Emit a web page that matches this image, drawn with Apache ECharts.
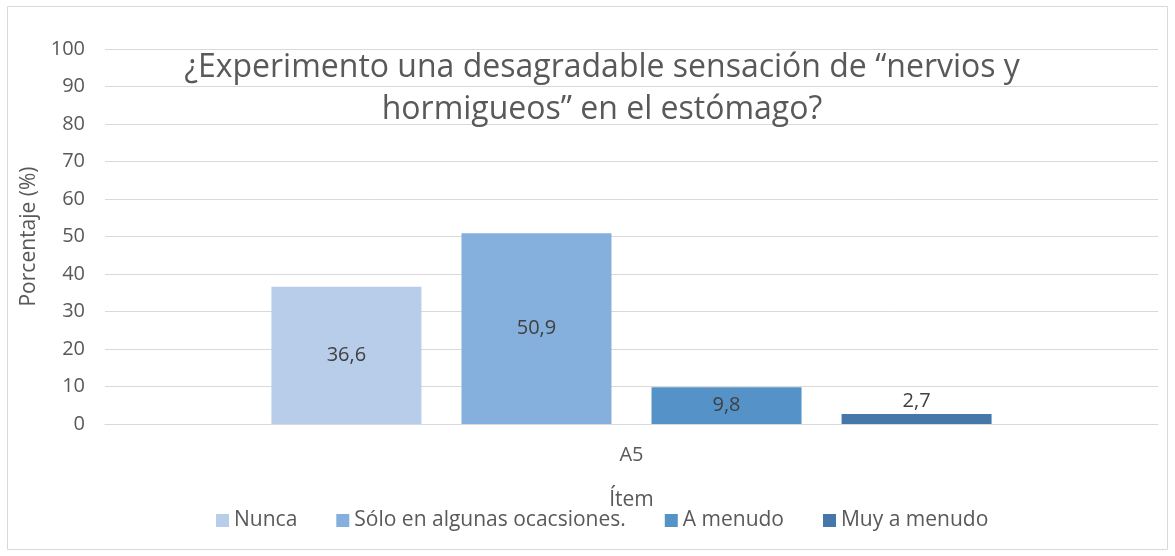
<!DOCTYPE html>
<html>
<head>
<meta charset="utf-8">
<script src="https://cdn.jsdelivr.net/npm/echarts@6/dist/echarts.min.js"></script>
<style>
html, body { margin: 0; padding: 0; background: #fff; }
#main { width: 1175px; height: 556px; }
</style>
</head>
<body>
<div id="main"></div>
<script>
var categories = ['A5'];
var seriesNames = ['Nunca', 'Sólo en algunas ocacsiones.', 'A menudo', 'Muy a menudo'];
var seriesValues = [[36.6], [50.9], [9.8], [2.7]];
var seriesColors = ['#b7cde9', '#85afdc', '#5592c8', '#4577a8'];
var labelPos = ['inside', 'inside', 'inside', 'top'];

var myChart = echarts.init(document.getElementById('main'));

var series = seriesNames.map(function (name, i) {
    return {
        name: name,
        type: 'bar',
        data: seriesValues[i],
        barWidth: 150,
        barGap: '26.7%',
        itemStyle: { color: seriesColors[i] },
        label: {
            show: true,
            position: labelPos[i],
            distance: 3,
            fontFamily: 'Open Sans',
            fontSize: 20,
            color: '#404040',
            formatter: function (p) {
                return String(p.value).replace('.', ',');
            }
        }
    };
});

option = {
    backgroundColor: '#fff',
    textStyle: { fontFamily: 'Open Sans' },
    title: {
        text: '¿Experimento una desagradable sensación de “nervios y\nhormigueos” en el estómago?',
        left: 597,
        top: 42,
        textAlign: 'center',
        textStyle: {
            fontFamily: 'Open Sans',
            fontSize: 32,
            fontWeight: 'normal',
            color: '#595959',
            lineHeight: 42,
            align: 'center'
        }
    },
    legend: {
        data: seriesNames,
        bottom: 20,
        left: 211,
        itemWidth: 13,
        itemHeight: 13,
        itemGap: 39,
        icon: 'rect',
        textStyle: { fontSize: 21, color: '#595959', fontFamily: 'Open Sans' }
    },
    graphic: [{
        type: 'rect',
        shape: { x: 7.5, y: 6.5, width: 1160, height: 543 },
        style: { fill: 'none', stroke: '#d9d9d9', lineWidth: 1 },
        silent: true
    }],
    grid: {
        left: 105,
        right: 17,
        top: 49,
        bottom: 132
    },
    xAxis: [{
        type: 'category',
        data: categories,
        name: 'Ítem',
        nameLocation: 'middle',
        nameGap: 66,
        nameTextStyle: { fontSize: 21, color: '#595959' },
        axisLine: { lineStyle: { color: '#d9d9d9', width: 1 } },
        axisTick: { show: false },
        axisLabel: { fontSize: 20, color: '#595959', margin: 21 }
    }],
    yAxis: [{
        type: 'value',
        min: 0,
        max: 100,
        interval: 10,
        name: 'Porcentaje (%)',
        nameLocation: 'middle',
        nameGap: 63,
        nameTextStyle: { fontSize: 21, color: '#595959' },
        axisLine: { show: false },
        axisTick: { show: false },
        axisLabel: { fontSize: 20, color: '#595959', margin: 20 },
        splitLine: { lineStyle: { color: '#d9d9d9', width: 1 } }
    }],
    series: series
};

myChart.setOption(option);
</script>
</body>
</html>
